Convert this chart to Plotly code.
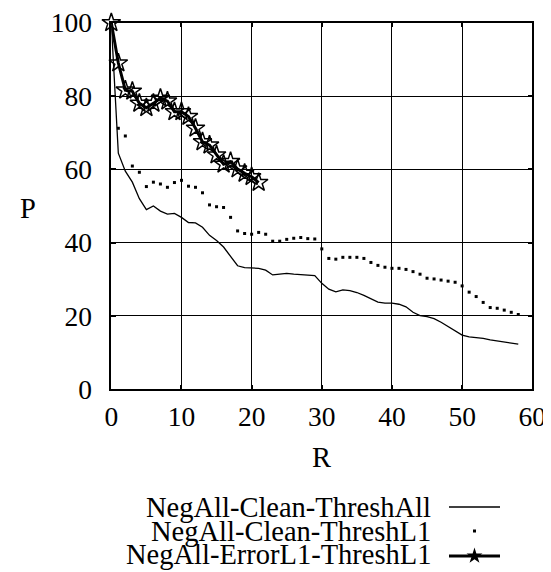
import plotly.graph_objects as go

# ---------------- data ----------------
r_all = list(range(0, 59))
p_clean_thresh_all = [100, 64.4, 59.5, 56.5, 52, 49, 50, 48.6, 47.8, 48, 46.9, 45.5, 45.4, 44.2, 42,
                      40.6, 38.8, 36.2, 33.7, 33.2, 33.2, 33, 32.5, 31.2, 31.4, 31.6, 31.4, 31.2, 31.1,
                      31, 28.9, 27.3, 26.6, 27.1, 26.9, 26.4, 25.6, 24.8, 23.8, 23.5, 23.5, 23.2, 22.5,
                      21, 20.1, 19.8, 19.3, 18.3, 17.1, 16, 14.8, 14.3, 14.2, 13.9, 13.5, 13.2, 13,
                      12.7, 12.3]

r_l1 = list(range(0, 59))
p_clean_thresh_l1 = [100, 71.2, 69.1, 60.9, 59.2, 55.3, 56.5, 56, 55.1, 56.4, 57, 55.4, 55.1, 53.6,
                     50.3, 49.8, 49.6, 46.9, 43.2, 42.5, 42.3, 42.8, 42.3, 40.4, 40.4, 40.9, 41.2,
                     41.4, 41.1, 41, 38.3, 35.7, 35.5, 36, 36, 36, 35.7, 34.6, 33.8, 33.3, 33, 33,
                     32.7, 32.1, 31.4, 30.3, 30.1, 29.8, 29.5, 29.2, 28.2, 26.5, 25.3, 23.7, 22.3,
                     22.1, 21.6, 21, 20.4]

r_err = list(range(0, 22))
p_error_thresh_l1 = [100, 89, 81.6, 81.3, 78, 76.8, 78, 79.4, 78.6, 75.7, 75.7, 74.4, 71.2, 67.5,
                     66.6, 63.9, 61.4, 62.1, 60.1, 58.9, 58, 56.4]

series_names = ["NegAll-Clean-ThreshAll", "NegAll-Clean-ThreshL1", "NegAll-ErrorL1-ThreshL1"]
x_ticks = [0, 10, 20, 30, 40, 50, 60]
y_ticks = [0, 20, 40, 60, 80, 100]
x_title = "R"
y_title = "P"

# ---------------- layout constants ----------------
OFF = 8                      # page body margin of the html page
W, H = 551 - OFF, 572 - OFF  # figure size so that it fills the window
FONT = "Liberation Serif"
FS = 27.5
FS_LEG = 28.5
plot_left, plot_right, plot_top, plot_bottom = 111.3, 532.3, 22.7, 389.3  # window pixels


def px(x):
    return (x - OFF) / W


def py(y):
    return 1 - (y - OFF) / H


fig = go.Figure()

fig.add_trace(go.Scatter(x=r_all, y=p_clean_thresh_all, mode="lines",
                         line=dict(color="black", width=1.3), cliponaxis=False,
                         name=series_names[0], showlegend=False))
fig.add_trace(go.Scatter(x=r_l1, y=p_clean_thresh_l1, mode="markers",
                         marker=dict(symbol="square", size=3, color="black"), cliponaxis=False,
                         name=series_names[1], showlegend=False))
fig.add_trace(go.Scatter(x=r_err, y=p_error_thresh_l1, mode="lines+markers",
                         line=dict(color="black", width=3),
                         marker=dict(symbol="star-open", size=14, color="black", line=dict(width=1.5)),
                         cliponaxis=False, name=series_names[2], showlegend=False))

# ---------------- manual legend (text right, sample on the right) ----------------
leg_text_right = 433
leg_sample_x0, leg_sample_x1 = 449, 500
leg_text_rows = [508, 531, 554]
leg_sample_rows = [507, 531, 556]
for i, (name, ytxt, yrow) in enumerate(zip(series_names, leg_text_rows, leg_sample_rows)):
    fig.add_annotation(text=name, xref="paper", yref="paper", x=px(leg_text_right), y=py(ytxt),
                       xanchor="right", yanchor="middle", showarrow=False,
                       font=dict(family=FONT, size=FS_LEG, color="black"))
    xmid = (leg_sample_x0 + leg_sample_x1) / 2
    if i in (0, 2):
        fig.add_trace(go.Scatter(x=[leg_sample_x0, leg_sample_x1], y=[yrow, yrow], xaxis="x2",
                                 yaxis="y2", mode="lines", showlegend=False, hoverinfo="skip",
                                 line=dict(color="black", width=1.3 if i == 0 else 3)))
    if i == 1:
        fig.add_trace(go.Scatter(x=[xmid], y=[yrow], xaxis="x2", yaxis="y2", mode="markers",
                                 showlegend=False, hoverinfo="skip", cliponaxis=False,
                                 marker=dict(symbol="square", size=3, color="black")))
    if i == 2:
        fig.add_trace(go.Scatter(x=[xmid], y=[yrow], xaxis="x2", yaxis="y2", mode="markers",
                                 showlegend=False, hoverinfo="skip", cliponaxis=False,
                                 marker=dict(symbol="star", size=12, color="black")))

# axis titles
fig.add_annotation(text=y_title, xref="paper", yref="paper", x=px(28), y=py(208),
                   xanchor="center", yanchor="middle", showarrow=False,
                   font=dict(family=FONT, size=FS_LEG, color="black"))
fig.add_annotation(text=x_title, xref="paper", yref="paper", x=px(321.5), y=py(457),
                   xanchor="center", yanchor="middle", showarrow=False,
                   font=dict(family=FONT, size=FS_LEG, color="black"))

axis_common = dict(showgrid=True, gridcolor="black", gridwidth=1, zeroline=False,
                   showline=True, linecolor="black", linewidth=1.5, mirror="ticks",
                   ticks="inside", ticklen=5, tickwidth=1.5, tickcolor="black", automargin=False,
                   ticklabeloverflow="allow",
                   tickfont=dict(family=FONT, size=FS, color="black"))

fig.update_layout(
    width=W, height=H, autosize=False,
    margin=dict(l=0, r=0, t=0, b=0, pad=0, autoexpand=False),
    paper_bgcolor="white", plot_bgcolor="rgba(0,0,0,0)",
    showlegend=False,
    font=dict(family=FONT, size=FS, color="black"),
    xaxis=dict(domain=[px(plot_left), px(plot_right)], range=[0, 60], tickvals=x_ticks,
               anchor="y", ticklabelstandoff=2, **axis_common),
    yaxis=dict(domain=[py(plot_bottom), py(plot_top)], range=[0, 100], tickvals=y_ticks,
               anchor="x", ticklabelstandoff=12, **axis_common),
    xaxis2=dict(domain=[0, 1], range=[OFF, OFF + W], visible=False, anchor="y2", fixedrange=True,
                automargin=False),
    yaxis2=dict(domain=[0, 1], range=[OFF + H, OFF], visible=False, anchor="x2", fixedrange=True,
                automargin=False),
)

fig.write_html("out.html")
